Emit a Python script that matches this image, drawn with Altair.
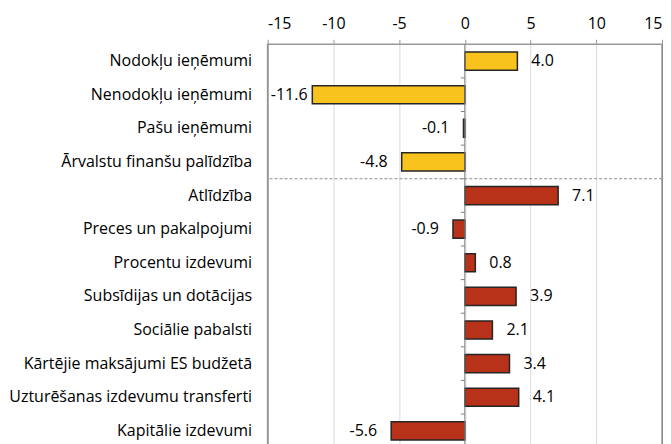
import altair as alt
import pandas as pd

categories = [
    "Nodokļu ieņēmumi",
    "Nenodokļu ieņēmumi",
    "Pašu ieņēmumi\u00a0",
    "Ārvalstu finanšu palīdzība",
    "Atlīdzība\u00a0",
    "Preces un pakalpojumi\u00a0",
    "Procentu izdevumi\u00a0",
    "Subsīdijas un dotācijas",
    "Sociālie pabalsti",
    "Kārtējie maksājumi ES budžetā",
    "Uzturēšanas izdevumu transferti",
    "Kapitālie izdevumi",
]
values = [4.0, -11.6, -0.1, -4.8, 7.1, -0.9, 0.8, 3.9, 2.1, 3.4, 4.1, -5.6]
groups = ["Ieņēmumi"] * 4 + ["Izdevumi"] * 8
x_ticks = [-15, -10, -5, 0, 5, 10, 15]

df = pd.DataFrame({"cat": categories, "value": values, "group": groups})

W, H = 395, 404
STEP = H / len(categories)
FONT = "Open Sans"
FS = 16

y_enc = alt.Y(
    "cat:N",
    sort=None,
    scale=alt.Scale(domain=categories, paddingInner=0.46, paddingOuter=0.23),
    axis=alt.Axis(
        title=None, ticks=False, domain=False, labelPadding=16,
        labelFontSize=FS, labelFont=FONT, labelColor="#000000",
        minExtent=258, maxExtent=258, labelLimit=260,
    ),
)
x_scale = alt.Scale(domain=[-15, 15], nice=False)

base = alt.Chart(df)

bars = base.mark_bar(stroke="#262626", strokeWidth=1.5).encode(
    x=alt.X(
        "value:Q", scale=x_scale,
        axis=alt.Axis(
            orient="top", title=None, values=x_ticks, grid=True,
            gridColor={"condition": {"test": "abs(datum.value) == 15", "value": "#8c8c8c"},
                       "value": "#d9d9d9"},
            domain=False, tickColor="#999999",
            tickSize=5, labelPadding=8, labelFontSize=FS, labelFont=FONT,
            labelColor="#000000", minExtent=36, maxExtent=36,
            labelExpr="replace(format(datum.value, 'd'), '\u2212', '-')",
        ),
    ),
    y=y_enc,
    color=alt.Color(
        "group:N",
        scale=alt.Scale(domain=["Ieņēmumi", "Izdevumi"], range=["#F8C31C", "#B83119"]),
        legend=None,
    ),
)

zero_line = alt.Chart(pd.DataFrame({"z": [0]})).mark_rule(color="#7f7f7f", strokeWidth=1).encode(
    x=alt.X("z:Q", scale=x_scale)
)

tick_df = pd.DataFrame({"cat": categories[:-1], "a": [-0.3] * 11, "b": [0.0] * 11})
zero_ticks = alt.Chart(tick_df).mark_rule(color="#7f7f7f", yOffset=STEP / 2).encode(
    x=alt.X("a:Q", scale=x_scale),
    x2="b:Q",
    y=alt.Y("cat:N", sort=None),
)

sep = alt.Chart(pd.DataFrame({"cat": [categories[3]]})).mark_rule(
    color="#8c8c8c", strokeDash=[3, 2], yOffset=STEP / 2
).encode(y=alt.Y("cat:N", sort=None))

lab_base = base.transform_calculate(
    lbl="replace(format(datum.value, '.1f'), '\u2212', '-')",
    lx="max(datum.value, -10.9)",
)
lab_pos = lab_base.transform_filter("datum.value >= 0").mark_text(
    fontSize=FS, font=FONT, color="#000000", baseline="middle", align="left", dx=14
).encode(x=alt.X("lx:Q", scale=x_scale), y=alt.Y("cat:N", sort=None), text="lbl:N")
lab_neg = lab_base.transform_filter("datum.value < 0").mark_text(
    fontSize=FS, font=FONT, color="#000000", baseline="middle", align="right", dx=-14
).encode(x=alt.X("lx:Q", scale=x_scale), y=alt.Y("cat:N", sort=None), text="lbl:N")

chart = alt.layer(bars, zero_line, zero_ticks, sep, lab_pos, lab_neg).properties(
    width=W, height=H, padding=0
).configure_view(stroke="#999999", strokeWidth=1.5)

chart.save("out.html", embed_options={"renderer": "svg", "actions": False})
